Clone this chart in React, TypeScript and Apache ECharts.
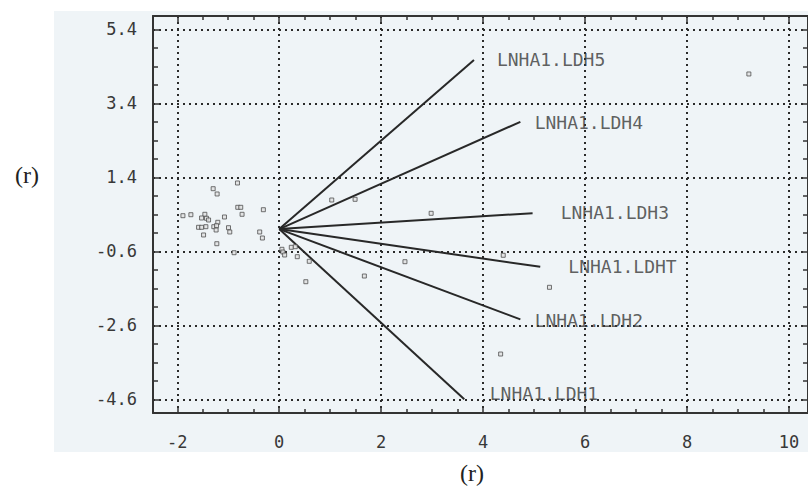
import React, { useEffect, useRef } from "react";
import * as echarts from "echarts";

// Biplot vectors (endpoint coordinates)
const vectorNames = ["LNHA1.LDH5", "LNHA1.LDH4", "LNHA1.LDH3", "LNHA1.LDHT", "LNHA1.LDH2", "LNHA1.LDH1"];
const vectorX = [3.82, 4.73, 4.97, 5.12, 4.73, 3.63];
const vectorY = [4.57, 2.9, 0.43, -1.02, -2.44, -4.6];
// Label anchor positions (data units)
const labelX = [4.27, 5.01, 5.52, 5.67, 5.01, 4.13];
const labelY = [4.57, 2.89, 0.44, -1.0, -2.48, -4.43];

// Observation scores
const pointX = [
  -0.819, -1.296, -1.218, -0.813, -0.755, -0.311, -0.729, -1.889, -1.733, -1.459,
  -1.523, -1.426, -1.386, -1.074, -1.205, -1.582, -1.523, -1.439, -1.283, -1.23,
  -1.238, -0.995, -0.97, -1.484, -0.383, -0.33, -1.224, -0.886, 1.03, 1.488,
  0.053, 0.072, 0.237, 0.315, 0.106, 0.354, 0.589, 0.522, 1.67, 2.466,
  2.98, 4.394, 5.301, 4.343, 9.212,
];
const pointY = [
  1.246, 1.092, 0.949, 0.589, 0.589, 0.524, 0.4, 0.362, 0.389, 0.4,
  0.3, 0.292, 0.246, 0.327, 0.184, 0.049, 0.049, 0.065, 0.065, 0.092,
  -0.024, 0.038, -0.078, -0.159, -0.078, -0.241, -0.395, -0.638, 0.786, 0.805,
  -0.546, -0.619, -0.492, -0.476, -0.7, -0.746, -0.87, -1.422, -1.268, -0.881,
  0.427, -0.708, -1.573, -3.376, 4.192,
];

// Axis ticks
const xMajorTicks = [-2, 0, 2, 4, 6, 8, 10];
const xMinorTicks = [-1.5, -1, -0.5, 0.5, 1, 1.5, 2.5, 3, 3.5, 4.5, 5, 5.5, 6.5, 7, 7.5, 8.5, 9, 9.5];
const yMajorTicks = [-4.6, -2.6, -0.6, 1.4, 3.4, 5.4];
const yMinorTicks = [-4.1, -3.6, -3.1, -2.1, -1.6, -1.1, -0.1, 0.4, 0.9, 1.9, 2.4, 2.9, 3.9, 4.4, 4.9];

const X_MIN = -2.476;
const X_MAX = 10.372;
const Y_MIN = -4.97;
const Y_MAX = 5.759;

const INK = "#333333";
const TEXT = "#383838";
const MONO = "'DejaVu Sans Mono', 'Liberation Mono', monospace";
const GRID_DOTS = { color: "#2a2a2a", width: 2, type: [2, 4] };

function makeX(position: "bottom" | "top", major: boolean, main: boolean) {
  return {
    type: "value",
    min: X_MIN,
    max: X_MAX,
    position,
    axisLine: { show: major, onZero: false, lineStyle: { color: INK, width: 2 } },
    axisTick: {
      show: true,
      inside: true,
      length: major ? 7 : 4,
      customValues: major ? xMajorTicks : xMinorTicks,
      lineStyle: { color: INK, width: 1.5 },
    },
    axisLabel: {
      show: main,
      customValues: xMajorTicks,
      margin: 20,
      color: TEXT,
      fontFamily: MONO,
      fontSize: 17,
      formatter: (v: number) => String(Math.round(v)),
    },
    splitLine: { show: main, lineStyle: GRID_DOTS },
  };
}

function makeY(position: "left" | "right", major: boolean, main: boolean) {
  return {
    type: "value",
    min: Y_MIN,
    max: Y_MAX,
    position,
    axisLine: { show: major, onZero: false, lineStyle: { color: INK, width: 2 } },
    axisTick: {
      show: true,
      inside: true,
      length: major ? 7 : 5,
      customValues: major ? yMajorTicks : yMinorTicks,
      lineStyle: { color: INK, width: 1.5 },
    },
    axisLabel: {
      show: main,
      customValues: yMajorTicks,
      margin: 16,
      color: TEXT,
      fontFamily: MONO,
      fontSize: 17,
      formatter: (v: number) => v.toFixed(1),
    },
    splitLine: { show: main, lineStyle: GRID_DOTS },
  };
}

export default function App() {
  const ref = useRef<HTMLDivElement>(null);

  useEffect(() => {
    if (!ref.current) return;
    const chart = echarts.init(ref.current, null, { renderer: "svg" });

    const vectorSeries = vectorNames.map((name, i) => ({
      type: "line",
      name,
      xAxisIndex: 0,
      yAxisIndex: 0,
      data: [
        [0, 0],
        [vectorX[i], vectorY[i]],
      ],
      showSymbol: false,
      symbol: "none",
      lineStyle: { color: "#282828", width: 2 },
      z: 3,
    }));

    const option = {
      animation: false,
      backgroundColor: "#ffffff",
      graphic: [
        {
          type: "rect",
          shape: { x: 54, y: 11, width: 760, height: 441 },
          style: { fill: "#eff4f7" },
          z: -10,
          silent: true,
        },
        {
          type: "text",
          x: 27,
          y: 175,
          style: {
            text: "(r)",
            font: "24px 'Liberation Serif', 'DejaVu Serif', serif",
            fill: "#222",
            align: "center",
            verticalAlign: "middle",
          },
        },
        {
          type: "text",
          x: 472,
          y: 473,
          style: {
            text: "(r)",
            font: "24px 'Liberation Serif', 'DejaVu Serif', serif",
            fill: "#222",
            align: "center",
            verticalAlign: "middle",
          },
        },
      ],
      grid: { left: 153, top: 16, width: 657, height: 397, containLabel: false },
      xAxis: [
        makeX("bottom", true, true),
        makeX("bottom", false, false),
        makeX("top", true, false),
        makeX("top", false, false),
      ],
      yAxis: [
        makeY("left", true, true),
        makeY("left", false, false),
        makeY("right", true, false),
        makeY("right", false, false),
      ],
      series: [
        ...vectorSeries,
        {
          type: "scatter",
          name: "scores",
          xAxisIndex: 0,
          yAxisIndex: 0,
          data: pointX.map((x, i) => [x, pointY[i]]),
          symbol: "rect",
          symbolSize: 4,
          itemStyle: { color: "#e0e0e0", borderColor: "#505050", borderWidth: 1 },
          z: 4,
        },
        {
          type: "scatter",
          name: "labels",
          xAxisIndex: 0,
          yAxisIndex: 0,
          data: labelX.map((x, i) => [x, labelY[i]]),
          symbolSize: 0,
          itemStyle: { color: "transparent" },
          label: {
            show: true,
            position: "right",
            distance: 0,
            color: TEXT,
            fontFamily: MONO,
            fontSize: 18,
            formatter: (p: any) => vectorNames[p.dataIndex],
          },
          z: 5,
        },
      ],
    };

    chart.setOption(option as any);
    return () => chart.dispose();
  }, []);

  return (
    <div
      ref={ref}
      style={{ position: "absolute", left: 0, top: 0, width: 808, height: 486 }}
    />
  );
}
